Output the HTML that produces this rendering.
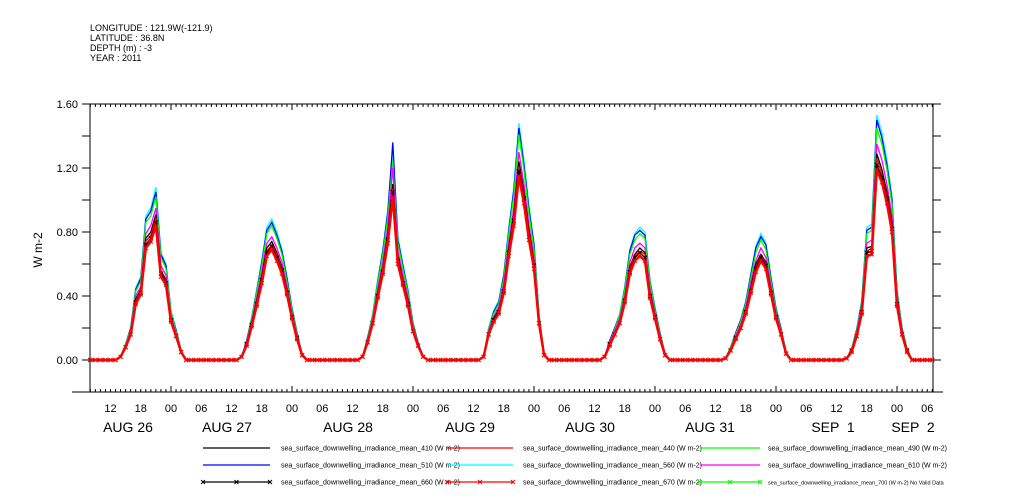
<!DOCTYPE html>
<html><head><meta charset="utf-8"><style>
body{margin:0;background:#fff;}
svg{display:block;font-family:"Liberation Sans",sans-serif;}
</style></head><body>
<svg id="chart" width="1009" height="504" viewBox="0 0 1009 504">
<g font-size="9" fill="#000">
<text x="90" y="31">LONGITUDE : 121.9W(-121.9)</text>
<text x="90" y="41">LATITUDE : 36.8N</text>
<text x="90" y="51">DEPTH (m) : -3</text>
<text x="90" y="61">YEAR : 2011</text>
</g>
<text x="0" y="0" transform="translate(42,250) rotate(-90)" text-anchor="middle" font-size="12">W m-2</text>
<g id="axes"></g>
<g id="series"></g>
<g id="legend"></g>
</svg>
<script>
const yTicks=[0,0.4,0.8,1.2,1.6];
const yTickLabels=["0.00","0.40","0.80","1.20","1.60"];
const dayLabels=["AUG 26","AUG 27","AUG 28","AUG 29","AUG 30","AUG 31","SEP  1","SEP  2"];
const dayLabelX=[128,227,348,470,590,710,833,913];
const dayHours=[14,15,16,17,18,19,20,21,22,23,24,25,26];
const s560=[.02,.10,.20,.45,.52,.90,.95,1.08,.67,.60,.31,.19,.06, .02,.12,.27,.44,.62,.83,.88,.80,.69,.52,.33,.17,.04, .02,.14,.29,.50,.69,.94,1.30,.77,.60,.44,.23,.11,.02, .02,.20,.31,.37,.54,.83,1.08,1.48,1.25,.96,.73,.29,.04, .02,.12,.20,.29,.46,.69,.79,.83,.80,.50,.33,.17,.04, .01,.08,.17,.25,.37,.54,.71,.79,.73,.52,.33,.20,.05, .01,.07,.19,.37,.83,.85,1.53,1.42,1.25,1.02,.44,.20,.07];
const s510=[.02,.10,.20,.44,.51,.88,.93,1.05,.66,.59,.30,.19,.06, .02,.12,.26,.43,.61,.81,.86,.78,.68,.51,.32,.17,.04, .02,.14,.28,.49,.68,.92,1.36,.75,.59,.43,.23,.11,.02, .02,.19,.30,.36,.53,.81,1.06,1.45,1.22,.94,.72,.28,.04, .02,.12,.20,.28,.45,.68,.78,.81,.78,.49,.32,.17,.04, .01,.08,.17,.25,.36,.53,.70,.77,.72,.51,.32,.20,.05, .01,.07,.19,.36,.81,.83,1.50,1.39,1.22,1.00,.43,.20,.07];
const s490=[.02,.10,.19,.43,.49,.86,.90,1.02,.64,.57,.30,.18,.06, .02,.11,.26,.42,.59,.79,.84,.76,.66,.49,.31,.16,.04, .02,.13,.28,.48,.66,.89,1.24,.73,.57,.42,.22,.10,.02, .02,.19,.29,.35,.51,.79,1.03,1.41,1.19,.91,.69,.28,.04, .02,.11,.19,.28,.44,.66,.75,.79,.76,.48,.31,.16,.04, .01,.08,.16,.24,.35,.51,.67,.75,.69,.49,.31,.19,.05, .01,.07,.18,.35,.79,.81,1.45,1.35,1.19,.97,.42,.19,.07];
const s610=[.02,.09,.18,.40,.46,.79,.84,.95,.59,.53,.27,.17,.05, .02,.11,.24,.39,.55,.73,.77,.70,.61,.46,.29,.15,.04, .02,.12,.26,.44,.61,.83,1.20,.68,.53,.39,.20,.10,.02, .02,.18,.27,.33,.48,.73,.95,1.30,1.10,.84,.64,.26,.04, .02,.11,.18,.26,.40,.61,.70,.73,.70,.44,.29,.15,.04, .01,.07,.15,.22,.33,.48,.62,.70,.64,.46,.29,.18,.04, .01,.06,.17,.33,.73,.75,1.35,1.25,1.10,.90,.39,.18,.06];
const s410=[.02,.08,.17,.38,.44,.76,.80,.91,.56,.50,.26,.16,.05, .02,.10,.23,.37,.52,.70,.74,.67,.58,.44,.28,.14,.03, .02,.12,.24,.42,.58,.79,1.10,.65,.50,.37,.19,.09,.02, .02,.17,.26,.31,.45,.70,.91,1.24,1.05,.81,.61,.24,.03, .02,.10,.17,.24,.39,.58,.66,.70,.67,.42,.28,.14,.03, .01,.07,.14,.21,.31,.45,.60,.66,.61,.44,.28,.17,.04, .01,.06,.16,.31,.70,.71,1.29,1.19,1.05,.86,.37,.17,.06];
const s440=[.02,.08,.17,.37,.43,.74,.78,.89,.55,.49,.25,.16,.05, .02,.10,.22,.36,.51,.68,.72,.66,.57,.43,.27,.14,.03, .02,.11,.24,.41,.57,.77,1.07,.63,.49,.36,.19,.09,.02, .02,.17,.25,.30,.44,.68,.89,1.21,1.03,.79,.60,.24,.03, .02,.10,.17,.24,.38,.57,.65,.68,.66,.41,.27,.14,.03, .01,.07,.14,.21,.30,.44,.58,.65,.60,.43,.27,.16,.04, .01,.06,.16,.30,.68,.70,1.26,1.16,1.03,.84,.36,.16,.06];
const s660=[.02,.08,.16,.36,.42,.72,.76,.86,.54,.48,.25,.15,.05, .02,.10,.22,.35,.50,.67,.71,.64,.56,.42,.27,.14,.03, .02,.11,.23,.40,.55,.75,1.05,.62,.48,.35,.18,.09,.02, .02,.16,.25,.30,.43,.67,.87,1.18,1.01,.77,.59,.23,.03, .02,.10,.16,.23,.37,.55,.64,.67,.64,.40,.27,.13,.03, .01,.06,.14,.20,.30,.43,.57,.64,.59,.42,.27,.16,.04, .01,.06,.15,.30,.67,.68,1.22,1.14,1.01,.82,.35,.16,.06];
const s670=[.02,.08,.16,.35,.41,.70,.74,.84,.52,.47,.24,.15,.05, .02,.09,.21,.34,.48,.65,.69,.62,.54,.41,.26,.13,.03, .02,.11,.23,.39,.54,.73,1.02,.60,.47,.34,.18,.09,.02, .02,.16,.24,.29,.42,.65,.84,1.15,.98,.75,.57,.23,.03, .02,.09,.16,.23,.36,.54,.62,.65,.62,.39,.26,.13,.03, .01,.06,.13,.20,.29,.42,.55,.62,.57,.41,.26,.16,.04, .01,.05,.15,.29,.65,.66,1.19,1.11,.98,.80,.34,.16,.05];
const seriesNames=["410","440","490","510","560","610","660","670"];

const NS="http://www.w3.org/2000/svg";
const X0=90,X1=933,Y0=104,Y1=392;
const H0=8,H1=175; // hours since Aug 26 00:00
function xs(h){return 50+h*(121/24);}
function ys(v){return 360-v*160;}
function mk(tag,attrs,parent){const e=document.createElementNS(NS,tag);for(const k in attrs)e.setAttribute(k,attrs[k]);parent.appendChild(e);return e;}
const axes=document.getElementById('axes');
const fr=mk('rect',{x:X0,y:Y0,width:X1-X0,height:Y1-Y0,fill:'none',stroke:'#000','stroke-width':1},axes);


// y ticks every 0.2
for(let v=-0.2;v<=1.61;v+=0.2){const y=ys(v);
 const t1=mk('line',{x1:X0-8,x2:X0,y1:y,y2:y,stroke:'#000'},axes);
 
 
 const t2=mk('line',{x1:X1,x2:X1+8,y1:y,y2:y,stroke:'#000'},axes);
 
 }
yTicks.forEach((v,i)=>{const t=mk('text',{x:78,y:ys(v)+4,'text-anchor':'end','font-size':11},axes);t.textContent=yTickLabels[i];
 
 });
// x ticks hourly
for(let h=H0;h<=H1;h++){const x=xs(h);const major=h%24===0;const len=major?6:3;
 const a=mk('line',{x1:x,x2:x,y1:Y1,y2:Y1-len,stroke:'#000'},axes);
 
 
 const b=mk('line',{x1:x,x2:x,y1:Y0,y2:Y0+len,stroke:'#000'},axes);
 
 
 if(h%6===0){const t=mk('text',{x:x,y:412,'text-anchor':'middle','font-size':11},axes);t.textContent=String(h%24).padStart(2,'0');
  
  }}
mk('line',{x1:X0-18,x2:X1+10,y1:Y1,y2:Y1,stroke:'#000'},axes);
dayLabels.forEach((d,i)=>{const t=mk('text',{x:dayLabelX[i],y:432,'text-anchor':'middle','font-size':14,'xml:space':'preserve'},axes);t.textContent=d;t.style.whiteSpace='pre';
 
 });

function pts(arr){const p=[];for(let h=H0;h<=H1;h++){const d=Math.floor(h/24),hr=h%24+(h%24<14?24:0);let dd=hr>=24?d-1:d;let idx=dayHours.indexOf(hr);let v=0;if(dd>=0&&dd<7&&idx>=0)v=arr[dd*13+idx];p.push([xs(h),ys(v)]);}return p;}
const sg=document.getElementById('series');
const defs=[[s410,'#000',false,'410'],[s440,'#ff0000',false,'440'],[s490,'#00ff00',false,'490'],[s510,'#0000ff',false,'510'],[s560,'#00ffff',false,'560'],[s610,'#ff00ff',false,'610'],[s660,'#000',true,'660'],[s670,'#ff0000',true,'670']];
const drawOrder=[4,3,2,5,0,1,6,7];
drawOrder.forEach(i=>{const [arr,col,mark,nm]=defs[i];const p=pts(arr);
 const pl=mk('polyline',{points:p.map(q=>q[0].toFixed(1)+','+q[1].toFixed(1)).join(' '),fill:'none',stroke:col,'stroke-width':i===7?2.5:1.3},sg);
 
 
 if(mark){p.forEach(q=>{const m=mk('path',{d:`M${q[0]-2},${q[1]-2}L${q[0]+2},${q[1]+2}M${q[0]-2},${q[1]+2}L${q[0]+2},${q[1]-2}`,stroke:col,'stroke-width':1},sg);
  
  });}
});
// legend
const lg=document.getElementById('legend');
const legCols=[[203,270,281],[447,513,523],[700,760,768]];
const legRows=[448,465,482];
const legItems=[['410','#000',false],['440','#ff0000',false],['490','#00ff00',false],['510','#0000ff',false],['560','#00ffff',false],['610','#ff00ff',false],['660','#000',true],['670','#ff0000',true],['700','#00ff00',true]];
legItems.forEach((it,k)=>{const c=legCols[k%3],y=legRows[Math.floor(k/3)];
 const g=mk('g',{},lg);
 
 
 mk('line',{x1:c[0],x2:c[1],y1:y,y2:y,stroke:it[1],'stroke-width':1.3},g);
 if(it[2])[c[0],(c[0]+c[1])/2,c[1]].forEach(x=>mk('path',{d:`M${x-2},${y-2}L${x+2},${y+2}M${x-2},${y+2}L${x+2},${y-2}`,stroke:it[1]},g));
 const t=mk('text',{x:c[2],y:y+2.5,'font-size':k===8?5.5:7},g);
 t.textContent='sea_surface_downwelling_irradiance_mean_'+it[0]+(k===8?' (W m-2) No Valid Data':' (W m-2)');});
</script>
</body></html>
